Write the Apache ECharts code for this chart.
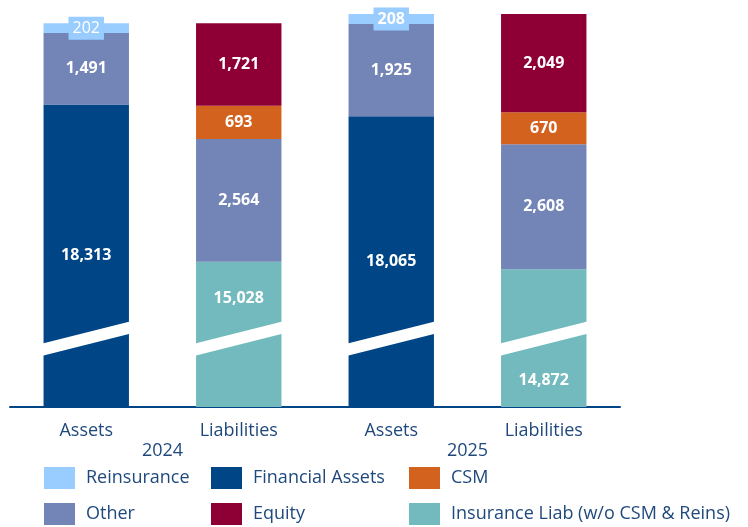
<!DOCTYPE html>
<html>
<head>
<meta charset="utf-8">
<script src="https://cdn.jsdelivr.net/npm/echarts@6/dist/echarts.min.js"></script>
<style>
  html, body { margin: 0; padding: 0; background: #fff; }
  #chart { width: 748px; height: 527px; }
</style>
</head>
<body>
<div id="chart"></div>
<script>
// categories along the axis and the year under each pair
const categories = ['Assets', 'Liabilities', 'Assets', 'Liabilities']
const years = ['2024', '2025']

// values (null = not part of that bar)
const financialAssets = [18313, null, 18065, null]
const insuranceLiab = [null, 15028, null, 14872]
const other = [1491, 2564, 1925, 2608]
const reinsurance = [202, null, 208, null]
const csm = [null, 693, null, 670]
const equity = [null, 1721, null, 2049]

// y axis is cut between these values
const breakStart = 1300
const breakEnd = 13550

const textColor = '#1F497D'
const font = 'Open Sans'

const fmt = function(v) {
  return String(v).replace(/\B(?=(\d{3})+(?!\d))/g, ',')
}

const chart = echarts.init(document.getElementById('chart'))

function barSeries(name, data, color, extra) {
  return Object.assign({
    name: name,
    type: 'bar',
    stack: 'total',
    barWidth: '56%',
    xAxisIndex: 0,
    itemStyle: { color: color },
    label: {
      show: true,
      position: 'inside',
      color: '#fff',
      fontFamily: font,
      fontWeight: 'bold',
      fontSize: 16,
      formatter: function(p) { return fmt(p.value) }
    },
    data: data
  }, extra || {})
}

// insurance liab labels sit above / below the cut
const insLiabData = insuranceLiab.map(function(v, i) {
  if (v === null) return null
  if (i === 1) return { value: v, label: { position: 'insideTop', distance: 29 } }
  return { value: v, label: { position: 'insideBottom', distance: 19 } }
})

const reinsData = reinsurance.map(function(v, i) {
  if (v === null) return null
  return { value: v, label: { fontWeight: i === 0 ? 'normal' : 'bold' } }
})

const option = {
  animation: false,
  grid: { left: 10, right: 128, top: 14, bottom: 120 },
  legend: [
    { data: ['Reinsurance', 'Other'], left: 44 },
    { data: ['Financial Assets', 'Equity'], left: 211 },
    { data: ['CSM', 'Insurance Liab (w/o CSM & Reins)'], left: 409 }
  ].map(function(l) {
    return Object.assign({
      top: 467,
      orient: 'vertical',
      padding: 0,
      itemWidth: 31,
      itemHeight: 22,
      itemGap: 14,
      icon: 'rect',
      selectedMode: false,
      textStyle: { color: textColor, fontFamily: font, fontSize: 18, padding: [4, 0, 0, 6] }
    }, l)
  }),
  xAxis: [
    {
      type: 'category',
      data: categories,
      axisLine: { lineStyle: { color: '#004586', width: 2 } },
      axisTick: { show: false },
      axisLabel: { color: textColor, fontFamily: font, fontSize: 18, margin: 15 }
    },
    {
      type: 'category',
      data: years,
      position: 'bottom',
      axisLine: { show: false },
      axisTick: { show: false },
      axisLabel: { color: textColor, fontFamily: font, fontSize: 18, margin: 35 }
    }
  ],
  yAxis: {
    type: 'value',
    min: 0,
    max: 20200,
    breaks: [{ start: breakStart, end: breakEnd, gap: 255 }],
    breakArea: { show: false },
    axisLine: { show: false },
    axisTick: { show: false },
    axisLabel: { show: false },
    splitLine: { show: false }
  },
  series: [
    barSeries('Financial Assets', financialAssets, '#004586'),
    barSeries('Insurance Liab (w/o CSM & Reins)', insLiabData, '#72BABD'),
    barSeries('Other', other, '#7384B6'),
    barSeries('Reinsurance', reinsData, '#99CCFF', {
      label: {
        show: true,
        position: 'inside',
        color: '#fff',
        fontFamily: font,
        fontSize: 16,
        lineHeight: 19,
        padding: [2, 4],
        backgroundColor: '#99CCFF',
        formatter: function(p) { return fmt(p.value) }
      }
    }),
    barSeries('CSM', csm, '#D4621F'),
    barSeries('Equity', equity, '#8E0035'),
    {
      // white slanted stripe marking the cut in each bar
      type: 'custom',
      name: 'cut',
      silent: true,
      z: 5,
      xAxisIndex: 0,
      data: categories.map(function(c, i) { return [i] }),
      encode: { x: 0 },
      renderItem: function(params, api) {
        const idx = api.value(0)
        const top = api.coord([idx, breakEnd])
        const bot = api.coord([idx, breakStart])
        const hw = api.size([1, 0])[0] * 0.28 + 1
        const s = 0.254
        const cx = top[0]
        return {
          type: 'polygon',
          shape: {
            points: [
              [cx - hw, top[1] + s * hw],
              [cx + hw, top[1] - s * hw],
              [cx + hw, bot[1] - s * hw],
              [cx - hw, bot[1] + s * hw]
            ]
          },
          style: { fill: '#fff' }
        }
      }
    }
  ]
}

chart.setOption(option)
</script>
</body>
</html>
